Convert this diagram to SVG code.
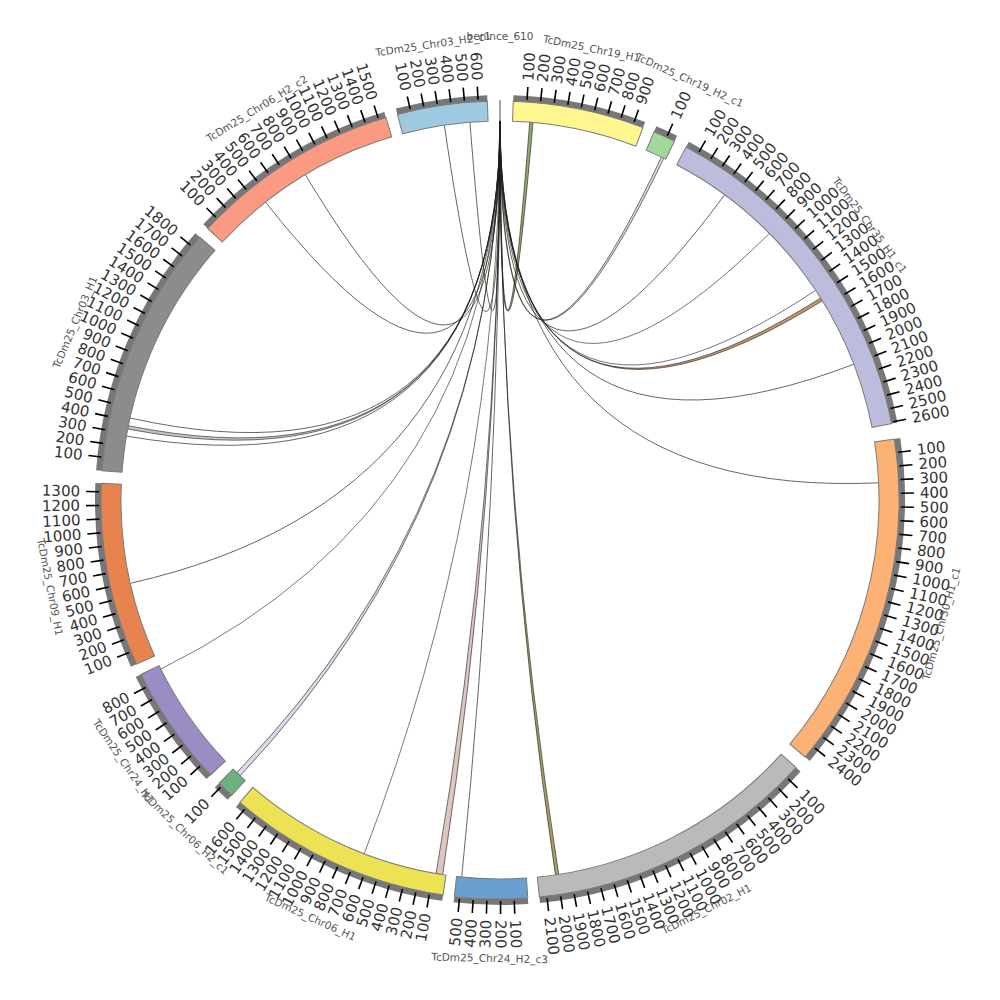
<svg xmlns="http://www.w3.org/2000/svg" xmlns:xlink="http://www.w3.org/1999/xlink" width="1000" height="1000" viewBox="0 0 1000 1000">
<style>
.b{stroke:#7a7a7a;stroke-width:1}
.g{fill:none;stroke:#777;stroke-width:6}
.n{font-family:"DejaVu Sans",sans-serif;font-size:15px;fill:#333;dominant-baseline:central}
.f{text-anchor:end}
.c{font-family:"DejaVu Sans",sans-serif;font-size:10.5px;fill:#555;text-anchor:middle}
.l{fill:none;stroke:#1a1a1a;stroke-width:0.7;opacity:0.95}
.r{stroke:#1a1a1a;stroke-width:0.6;fill-opacity:0.35}
.s{fill-opacity:0.75}
</style>
<defs><line id="k" x1="401" y1="0" x2="414" y2="0" stroke="#000" stroke-width="1.6"/></defs>
<rect width="1000" height="1000" fill="#fff"/>
<g id="links">
<path class="l" d="M500,121 Q500,500 444.3,125.1"/>
<path class="l" d="M500,121 Q500,500 469.9,122.2"/>
<path class="r s" fill="#6b8e3a" d="M499.8,121 Q500,500 529.7,122.2 A379,379 0 0 1 533,122.4 Q500,500 500.2,121 Z"/>
<path class="r" fill="#9a98c0" d="M499.8,121 Q500,500 661.4,157.1 A379,379 0 0 1 663.8,158.2 Q500,500 500.2,121 Z"/>
<path class="l" d="M500,121 Q500,500 724.6,194.8"/>
<path class="l" style="stroke:#4a2a1a" d="M500,121 Q500,500 769.4,233.4"/>
<path class="l" style="stroke:#2a2a5a" d="M500,121 Q500,500 815.7,290.3"/>
<path class="r s" fill="#b0703a" d="M499.8,121 Q500,500 820.7,298 A379,379 0 0 1 822.5,300.8 Q500,500 500.2,121 Z"/>
<path class="l" d="M500,121 Q500,500 853.8,364.2"/>
<path class="l" d="M500,121 Q500,500 878.6,482.8"/>
<path class="l" d="M500,121 Q500,500 130,418"/>
<path class="r" fill="#555" d="M499.8,121 Q500,500 127.7,429 A379,379 0 0 1 128.3,425.7 Q500,500 500.2,121 Z"/>
<path class="l" d="M500,121 Q500,500 126.4,436.1"/>
<path class="l" d="M500,121 Q500,500 130.3,583.3"/>
<path class="l" style="stroke:#3a3a10" d="M500,121 Q500,500 160.8,669.1"/>
<path class="r" fill="#8899bb" d="M499.8,121 Q500,500 240.1,775.8 A379,379 0 0 1 236.7,772.6 Q500,500 500.2,121 Z"/>
<path class="l" style="stroke:#3a3a10" d="M500,121 Q500,500 364.2,853.8"/>
<path class="r" fill="#a05a50" d="M499.8,121 Q500,500 442.7,874.6 A379,379 0 0 1 436.1,873.6 Q500,500 500.2,121 Z"/>
<path class="l" d="M500,121 Q500,500 461.7,877.1"/>
<path class="r s" fill="#8b7d2a" d="M499.8,121 Q500,500 558.7,874.4 A379,379 0 0 1 555.4,874.9 Q500,500 500.2,121 Z"/>
<path class="l" d="M500,121 Q500,500 265.6,202.2"/>
<path class="l" d="M500,121 Q500,500 305.4,174.8"/>
</g>
<g transform="translate(500,500)">
<g id="seg-benince_610">
<line x1="0" y1="-379" x2="0" y2="-400" stroke="#888" stroke-width="1.5"/>
<text class="c" y="-460">benince_610</text>
</g>
<g id="seg-Chr19_H1">
<g transform="rotate(1.9)"><path class="b" fill="#fff68f" d="M0,-399 A399,399 0 0 1 130.62,-377.01 L124.08,-358.11 A379,379 0 0 0 0,-379 Z"/><path class="g" d="M0,-402 A402,402 0 0 1 131.61,-379.85"/></g>
<g transform="rotate(-86.14)"><use href="#k"/><text class="n" x="420">100</text></g>
<g transform="rotate(-84.18)"><use href="#k"/><text class="n" x="420">200</text></g>
<g transform="rotate(-82.22)"><use href="#k"/><text class="n" x="420">300</text></g>
<g transform="rotate(-80.26)"><use href="#k"/><text class="n" x="420">400</text></g>
<g transform="rotate(-78.30)"><use href="#k"/><text class="n" x="420">500</text></g>
<g transform="rotate(-76.34)"><use href="#k"/><text class="n" x="420">600</text></g>
<g transform="rotate(-74.38)"><use href="#k"/><text class="n" x="420">700</text></g>
<g transform="rotate(-72.42)"><use href="#k"/><text class="n" x="420">800</text></g>
<g transform="rotate(-70.46)"><use href="#k"/><text class="n" x="420">900</text></g>
<text class="c" transform="rotate(11.46)" y="-457">TcDm25_Chr19_H1</text>
</g>
<g id="seg-Chr19_H2_c1">
<g transform="rotate(22.7)"><path class="b" fill="#a1d99b" d="M0,-399 A399,399 0 0 1 22.48,-398.37 L21.35,-378.4 A379,379 0 0 0 0,-379 Z"/><path class="g" d="M0,-402 A402,402 0 0 1 22.65,-401.36"/></g>
<g transform="rotate(-65.34)"><use href="#k"/><text class="n" x="420">100</text></g>
<text class="c" transform="rotate(24.32)" y="-457">TcDm25_Chr19_H2_c1</text>
</g>
<g id="seg-Chr35_H1_c1">
<g transform="rotate(27.8)"><path class="b" fill="#bcbddc" d="M0,-399 A399,399 0 0 1 310.79,-250.23 L295.21,-237.69 A379,379 0 0 0 0,-379 Z"/><path class="g" d="M0,-402 A402,402 0 0 1 313.12,-252.11"/></g>
<text class="c" transform="rotate(53.38)" y="-457">TcDm25_Chr35_H1_c1</text>
<g transform="rotate(-60.24)"><use href="#k"/><text class="n" x="420">100</text></g>
<g transform="rotate(-58.28)"><use href="#k"/><text class="n" x="420">200</text></g>
<g transform="rotate(-56.32)"><use href="#k"/><text class="n" x="420">300</text></g>
<g transform="rotate(-54.36)"><use href="#k"/><text class="n" x="420">400</text></g>
<g transform="rotate(-52.40)"><use href="#k"/><text class="n" x="420">500</text></g>
<g transform="rotate(-50.44)"><use href="#k"/><text class="n" x="420">600</text></g>
<g transform="rotate(-48.48)"><use href="#k"/><text class="n" x="420">700</text></g>
<g transform="rotate(-46.52)"><use href="#k"/><text class="n" x="420">800</text></g>
<g transform="rotate(-44.56)"><use href="#k"/><text class="n" x="420">900</text></g>
<g transform="rotate(-42.60)"><use href="#k"/><text class="n" x="420">1000</text></g>
<g transform="rotate(-40.64)"><use href="#k"/><text class="n" x="420">1100</text></g>
<g transform="rotate(-38.68)"><use href="#k"/><text class="n" x="420">1200</text></g>
<g transform="rotate(-36.72)"><use href="#k"/><text class="n" x="420">1300</text></g>
<g transform="rotate(-34.76)"><use href="#k"/><text class="n" x="420">1400</text></g>
<g transform="rotate(-32.80)"><use href="#k"/><text class="n" x="420">1500</text></g>
<g transform="rotate(-30.84)"><use href="#k"/><text class="n" x="420">1600</text></g>
<g transform="rotate(-28.88)"><use href="#k"/><text class="n" x="420">1700</text></g>
<g transform="rotate(-26.92)"><use href="#k"/><text class="n" x="420">1800</text></g>
<g transform="rotate(-24.96)"><use href="#k"/><text class="n" x="420">1900</text></g>
<g transform="rotate(-23.00)"><use href="#k"/><text class="n" x="420">2000</text></g>
<g transform="rotate(-21.04)"><use href="#k"/><text class="n" x="420">2100</text></g>
<g transform="rotate(-19.08)"><use href="#k"/><text class="n" x="420">2200</text></g>
<g transform="rotate(-17.12)"><use href="#k"/><text class="n" x="420">2300</text></g>
<g transform="rotate(-15.16)"><use href="#k"/><text class="n" x="420">2400</text></g>
<g transform="rotate(-13.20)"><use href="#k"/><text class="n" x="420">2500</text></g>
<g transform="rotate(-11.24)"><use href="#k"/><text class="n" x="420">2600</text></g>
</g>
<g id="seg-Chr30_H1_c1">
<g transform="rotate(81.2)"><path class="b" fill="#fdb275" d="M0,-399 A399,399 0 0 1 300.67,-262.29 L285.6,-249.15 A379,379 0 0 0 0,-379 Z"/><path class="g" d="M0,-402 A402,402 0 0 1 302.94,-264.27"/></g>
<text class="c" transform="rotate(-74.35)" y="462">TcDm25_Chr30_H1_c1</text>
<g transform="rotate(-6.84)"><use href="#k"/><text class="n" x="420">100</text></g>
<g transform="rotate(-4.88)"><use href="#k"/><text class="n" x="420">200</text></g>
<g transform="rotate(-2.92)"><use href="#k"/><text class="n" x="420">300</text></g>
<g transform="rotate(-0.96)"><use href="#k"/><text class="n" x="420">400</text></g>
<g transform="rotate(1.00)"><use href="#k"/><text class="n" x="420">500</text></g>
<g transform="rotate(2.96)"><use href="#k"/><text class="n" x="420">600</text></g>
<g transform="rotate(4.92)"><use href="#k"/><text class="n" x="420">700</text></g>
<g transform="rotate(6.88)"><use href="#k"/><text class="n" x="420">800</text></g>
<g transform="rotate(8.84)"><use href="#k"/><text class="n" x="420">900</text></g>
<g transform="rotate(10.80)"><use href="#k"/><text class="n" x="420">1000</text></g>
<g transform="rotate(12.76)"><use href="#k"/><text class="n" x="420">1100</text></g>
<g transform="rotate(14.72)"><use href="#k"/><text class="n" x="420">1200</text></g>
<g transform="rotate(16.68)"><use href="#k"/><text class="n" x="420">1300</text></g>
<g transform="rotate(18.64)"><use href="#k"/><text class="n" x="420">1400</text></g>
<g transform="rotate(20.60)"><use href="#k"/><text class="n" x="420">1500</text></g>
<g transform="rotate(22.56)"><use href="#k"/><text class="n" x="420">1600</text></g>
<g transform="rotate(24.52)"><use href="#k"/><text class="n" x="420">1700</text></g>
<g transform="rotate(26.48)"><use href="#k"/><text class="n" x="420">1800</text></g>
<g transform="rotate(28.44)"><use href="#k"/><text class="n" x="420">1900</text></g>
<g transform="rotate(30.40)"><use href="#k"/><text class="n" x="420">2000</text></g>
<g transform="rotate(32.36)"><use href="#k"/><text class="n" x="420">2100</text></g>
<g transform="rotate(34.32)"><use href="#k"/><text class="n" x="420">2200</text></g>
<g transform="rotate(36.28)"><use href="#k"/><text class="n" x="420">2300</text></g>
<g transform="rotate(38.24)"><use href="#k"/><text class="n" x="420">2400</text></g>
</g>
<g id="seg-Chr02_H1">
<g transform="rotate(132.1)"><path class="b" fill="#bababa" d="M0,-399 A399,399 0 0 1 268.22,-295.4 L254.78,-280.59 A379,379 0 0 0 0,-379 Z"/><path class="g" d="M0,-402 A402,402 0 0 1 270.24,-297.62"/></g>
<text class="c" transform="rotate(-26.78)" y="462">TcDm25_Chr02_H1</text>
<g transform="rotate(44.06)"><use href="#k"/><text class="n" x="420">100</text></g>
<g transform="rotate(46.02)"><use href="#k"/><text class="n" x="420">200</text></g>
<g transform="rotate(47.98)"><use href="#k"/><text class="n" x="420">300</text></g>
<g transform="rotate(49.94)"><use href="#k"/><text class="n" x="420">400</text></g>
<g transform="rotate(51.90)"><use href="#k"/><text class="n" x="420">500</text></g>
<g transform="rotate(53.86)"><use href="#k"/><text class="n" x="420">600</text></g>
<g transform="rotate(55.82)"><use href="#k"/><text class="n" x="420">700</text></g>
<g transform="rotate(57.78)"><use href="#k"/><text class="n" x="420">800</text></g>
<g transform="rotate(59.74)"><use href="#k"/><text class="n" x="420">900</text></g>
<g transform="rotate(61.70)"><use href="#k"/><text class="n" x="420">1000</text></g>
<g transform="rotate(63.66)"><use href="#k"/><text class="n" x="420">1100</text></g>
<g transform="rotate(65.62)"><use href="#k"/><text class="n" x="420">1200</text></g>
<g transform="rotate(67.58)"><use href="#k"/><text class="n" x="420">1300</text></g>
<g transform="rotate(69.54)"><use href="#k"/><text class="n" x="420">1400</text></g>
<g transform="rotate(71.50)"><use href="#k"/><text class="n" x="420">1500</text></g>
<g transform="rotate(73.46)"><use href="#k"/><text class="n" x="420">1600</text></g>
<g transform="rotate(75.42)"><use href="#k"/><text class="n" x="420">1700</text></g>
<g transform="rotate(77.38)"><use href="#k"/><text class="n" x="420">1800</text></g>
<g transform="rotate(79.34)"><use href="#k"/><text class="n" x="420">1900</text></g>
<g transform="rotate(81.30)"><use href="#k"/><text class="n" x="420">2000</text></g>
<g transform="rotate(83.26)"><use href="#k"/><text class="n" x="420">2100</text></g>
</g>
<g id="seg-Chr24_H2_c3">
<g transform="rotate(176)"><path class="b" fill="#6a9fd0" d="M0,-399 A399,399 0 0 1 73.26,-392.22 L69.59,-372.56 A379,379 0 0 0 0,-379 Z"/><path class="g" d="M0,-402 A402,402 0 0 1 73.81,-395.17"/></g>
<text class="c" transform="rotate(1.29)" y="462">TcDm25_Chr24_H2_c3</text>
<g transform="rotate(87.96)"><use href="#k"/><text class="n" x="420">100</text></g>
<g transform="rotate(89.92)"><use href="#k"/><text class="n" x="420">200</text></g>
<g transform="rotate(91.88)"><use href="#k"/><text class="n f" x="-420" transform="rotate(180)">300</text></g>
<g transform="rotate(93.84)"><use href="#k"/><text class="n f" x="-420" transform="rotate(180)">400</text></g>
<g transform="rotate(95.80)"><use href="#k"/><text class="n f" x="-420" transform="rotate(180)">500</text></g>
</g>
<g id="seg-Chr06_H1">
<g transform="rotate(188.2)"><path class="b" fill="#ece253" d="M0,-399 A399,399 0 0 1 214.38,-336.51 L203.64,-319.64 A379,379 0 0 0 0,-379 Z"/><path class="g" d="M0,-402 A402,402 0 0 1 216,-339.04"/></g>
<text class="c" transform="rotate(24.45)" y="462">TcDm25_Chr06_H1</text>
<g transform="rotate(100.16)"><use href="#k"/><text class="n f" x="-420" transform="rotate(180)">100</text></g>
<g transform="rotate(102.12)"><use href="#k"/><text class="n f" x="-420" transform="rotate(180)">200</text></g>
<g transform="rotate(104.08)"><use href="#k"/><text class="n f" x="-420" transform="rotate(180)">300</text></g>
<g transform="rotate(106.04)"><use href="#k"/><text class="n f" x="-420" transform="rotate(180)">400</text></g>
<g transform="rotate(108.00)"><use href="#k"/><text class="n f" x="-420" transform="rotate(180)">500</text></g>
<g transform="rotate(109.96)"><use href="#k"/><text class="n f" x="-420" transform="rotate(180)">600</text></g>
<g transform="rotate(111.92)"><use href="#k"/><text class="n f" x="-420" transform="rotate(180)">700</text></g>
<g transform="rotate(113.88)"><use href="#k"/><text class="n f" x="-420" transform="rotate(180)">800</text></g>
<g transform="rotate(115.84)"><use href="#k"/><text class="n f" x="-420" transform="rotate(180)">900</text></g>
<g transform="rotate(117.80)"><use href="#k"/><text class="n f" x="-420" transform="rotate(180)">1000</text></g>
<g transform="rotate(119.76)"><use href="#k"/><text class="n f" x="-420" transform="rotate(180)">1100</text></g>
<g transform="rotate(121.72)"><use href="#k"/><text class="n f" x="-420" transform="rotate(180)">1200</text></g>
<g transform="rotate(123.68)"><use href="#k"/><text class="n f" x="-420" transform="rotate(180)">1300</text></g>
<g transform="rotate(125.64)"><use href="#k"/><text class="n f" x="-420" transform="rotate(180)">1400</text></g>
<g transform="rotate(127.60)"><use href="#k"/><text class="n f" x="-420" transform="rotate(180)">1500</text></g>
<g transform="rotate(129.56)"><use href="#k"/><text class="n f" x="-420" transform="rotate(180)">1600</text></g>
</g>
<g id="seg-Chr06_H2_c1">
<g transform="rotate(222.25)"><path class="b" fill="#6bb27d" d="M0,-399 A399,399 0 0 1 17.47,-398.62 L16.6,-378.64 A379,379 0 0 0 0,-379 Z"/><path class="g" d="M0,-402 A402,402 0 0 1 17.6,-401.61"/></g>
<text class="c" transform="rotate(43.5)" y="462">TcDm25_Chr06_H2_c1</text>
<g transform="rotate(134.21)"><use href="#k"/><text class="n f" x="-420" transform="rotate(180)">100</text></g>
</g>
<g id="seg-Chr24_H1">
<g transform="rotate(226.45)"><path class="b" fill="#9c8cc4" d="M0,-399 A399,399 0 0 1 120.91,-380.24 L114.85,-361.18 A379,379 0 0 0 0,-379 Z"/><path class="g" d="M0,-402 A402,402 0 0 1 121.82,-383.1"/></g>
<text class="c" transform="rotate(55.27)" y="462">TcDm25_Chr24_H1</text>
<g transform="rotate(138.41)"><use href="#k"/><text class="n f" x="-420" transform="rotate(180)">100</text></g>
<g transform="rotate(140.37)"><use href="#k"/><text class="n f" x="-420" transform="rotate(180)">200</text></g>
<g transform="rotate(142.33)"><use href="#k"/><text class="n f" x="-420" transform="rotate(180)">300</text></g>
<g transform="rotate(144.29)"><use href="#k"/><text class="n f" x="-420" transform="rotate(180)">400</text></g>
<g transform="rotate(146.25)"><use href="#k"/><text class="n f" x="-420" transform="rotate(180)">500</text></g>
<g transform="rotate(148.21)"><use href="#k"/><text class="n f" x="-420" transform="rotate(180)">600</text></g>
<g transform="rotate(150.17)"><use href="#k"/><text class="n f" x="-420" transform="rotate(180)">700</text></g>
<g transform="rotate(152.13)"><use href="#k"/><text class="n f" x="-420" transform="rotate(180)">800</text></g>
</g>
<g id="seg-Chr09_H1">
<g transform="rotate(245.7)"><path class="b" fill="#e6834f" d="M0,-399 A399,399 0 0 1 179.28,-356.45 L170.29,-338.59 A379,379 0 0 0 0,-379 Z"/><path class="g" d="M0,-402 A402,402 0 0 1 180.63,-359.13"/></g>
<text class="c" transform="rotate(79.05)" y="462">TcDm25_Chr09_H1</text>
<g transform="rotate(157.66)"><use href="#k"/><text class="n f" x="-420" transform="rotate(180)">100</text></g>
<g transform="rotate(159.62)"><use href="#k"/><text class="n f" x="-420" transform="rotate(180)">200</text></g>
<g transform="rotate(161.58)"><use href="#k"/><text class="n f" x="-420" transform="rotate(180)">300</text></g>
<g transform="rotate(163.54)"><use href="#k"/><text class="n f" x="-420" transform="rotate(180)">400</text></g>
<g transform="rotate(165.50)"><use href="#k"/><text class="n f" x="-420" transform="rotate(180)">500</text></g>
<g transform="rotate(167.46)"><use href="#k"/><text class="n f" x="-420" transform="rotate(180)">600</text></g>
<g transform="rotate(169.42)"><use href="#k"/><text class="n f" x="-420" transform="rotate(180)">700</text></g>
<g transform="rotate(171.38)"><use href="#k"/><text class="n f" x="-420" transform="rotate(180)">800</text></g>
<g transform="rotate(173.34)"><use href="#k"/><text class="n f" x="-420" transform="rotate(180)">900</text></g>
<g transform="rotate(175.30)"><use href="#k"/><text class="n f" x="-420" transform="rotate(180)">1000</text></g>
<g transform="rotate(177.26)"><use href="#k"/><text class="n f" x="-420" transform="rotate(180)">1100</text></g>
<g transform="rotate(179.22)"><use href="#k"/><text class="n f" x="-420" transform="rotate(180)">1200</text></g>
<g transform="rotate(181.18)"><use href="#k"/><text class="n f" x="-420" transform="rotate(180)">1300</text></g>
</g>
<g id="seg-Chr03_H1">
<g transform="rotate(274.2)"><path class="b" fill="#8c8c8c" d="M0,-399 A399,399 0 0 1 240.18,-318.61 L228.14,-302.64 A379,379 0 0 0 0,-379 Z"/><path class="g" d="M0,-402 A402,402 0 0 1 241.99,-321.01"/></g>
<text class="c" transform="rotate(-67.3)" y="-457">TcDm25_Chr03_H1</text>
<g transform="rotate(186.16)"><use href="#k"/><text class="n f" x="-420" transform="rotate(180)">100</text></g>
<g transform="rotate(188.12)"><use href="#k"/><text class="n f" x="-420" transform="rotate(180)">200</text></g>
<g transform="rotate(190.08)"><use href="#k"/><text class="n f" x="-420" transform="rotate(180)">300</text></g>
<g transform="rotate(192.04)"><use href="#k"/><text class="n f" x="-420" transform="rotate(180)">400</text></g>
<g transform="rotate(194.00)"><use href="#k"/><text class="n f" x="-420" transform="rotate(180)">500</text></g>
<g transform="rotate(195.96)"><use href="#k"/><text class="n f" x="-420" transform="rotate(180)">600</text></g>
<g transform="rotate(197.92)"><use href="#k"/><text class="n f" x="-420" transform="rotate(180)">700</text></g>
<g transform="rotate(199.88)"><use href="#k"/><text class="n f" x="-420" transform="rotate(180)">800</text></g>
<g transform="rotate(201.84)"><use href="#k"/><text class="n f" x="-420" transform="rotate(180)">900</text></g>
<g transform="rotate(203.80)"><use href="#k"/><text class="n f" x="-420" transform="rotate(180)">1000</text></g>
<g transform="rotate(205.76)"><use href="#k"/><text class="n f" x="-420" transform="rotate(180)">1100</text></g>
<g transform="rotate(207.72)"><use href="#k"/><text class="n f" x="-420" transform="rotate(180)">1200</text></g>
<g transform="rotate(209.68)"><use href="#k"/><text class="n f" x="-420" transform="rotate(180)">1300</text></g>
<g transform="rotate(211.64)"><use href="#k"/><text class="n f" x="-420" transform="rotate(180)">1400</text></g>
<g transform="rotate(213.60)"><use href="#k"/><text class="n f" x="-420" transform="rotate(180)">1500</text></g>
<g transform="rotate(215.56)"><use href="#k"/><text class="n f" x="-420" transform="rotate(180)">1600</text></g>
<g transform="rotate(217.52)"><use href="#k"/><text class="n f" x="-420" transform="rotate(180)">1700</text></g>
<g transform="rotate(219.48)"><use href="#k"/><text class="n f" x="-420" transform="rotate(180)">1800</text></g>
</g>
<g id="seg-Chr06_H2_c2">
<g transform="rotate(312.9)"><path class="b" fill="#fb9a83" d="M0,-399 A399,399 0 0 1 202.51,-343.79 L192.36,-326.56 A379,379 0 0 0 0,-379 Z"/><path class="g" d="M0,-402 A402,402 0 0 1 204.03,-346.38"/></g>
<text class="c" transform="rotate(-31.85)" y="-457">TcDm25_Chr06_H2_c2</text>
<g transform="rotate(224.86)"><use href="#k"/><text class="n f" x="-420" transform="rotate(180)">100</text></g>
<g transform="rotate(226.82)"><use href="#k"/><text class="n f" x="-420" transform="rotate(180)">200</text></g>
<g transform="rotate(228.78)"><use href="#k"/><text class="n f" x="-420" transform="rotate(180)">300</text></g>
<g transform="rotate(230.74)"><use href="#k"/><text class="n f" x="-420" transform="rotate(180)">400</text></g>
<g transform="rotate(232.70)"><use href="#k"/><text class="n f" x="-420" transform="rotate(180)">500</text></g>
<g transform="rotate(234.66)"><use href="#k"/><text class="n f" x="-420" transform="rotate(180)">600</text></g>
<g transform="rotate(236.62)"><use href="#k"/><text class="n f" x="-420" transform="rotate(180)">700</text></g>
<g transform="rotate(238.58)"><use href="#k"/><text class="n f" x="-420" transform="rotate(180)">800</text></g>
<g transform="rotate(240.54)"><use href="#k"/><text class="n f" x="-420" transform="rotate(180)">900</text></g>
<g transform="rotate(242.50)"><use href="#k"/><text class="n f" x="-420" transform="rotate(180)">1000</text></g>
<g transform="rotate(244.46)"><use href="#k"/><text class="n f" x="-420" transform="rotate(180)">1100</text></g>
<g transform="rotate(246.42)"><use href="#k"/><text class="n f" x="-420" transform="rotate(180)">1200</text></g>
<g transform="rotate(248.38)"><use href="#k"/><text class="n f" x="-420" transform="rotate(180)">1300</text></g>
<g transform="rotate(250.34)"><use href="#k"/><text class="n f" x="-420" transform="rotate(180)">1400</text></g>
<g transform="rotate(252.30)"><use href="#k"/><text class="n f" x="-420" transform="rotate(180)">1500</text></g>
</g>
<g id="seg-Chr03_H2_c1">
<g transform="rotate(345.1)"><path class="b" fill="#9ecae1" d="M0,-399 A399,399 0 0 1 90.37,-388.63 L85.84,-369.15 A379,379 0 0 0 0,-379 Z"/><path class="g" d="M0,-402 A402,402 0 0 1 91.04,-391.56"/></g>
<text class="c" transform="rotate(-8.35)" y="-457">TcDm25_Chr03_H2_c1</text>
<g transform="rotate(257.06)"><use href="#k"/><text class="n f" x="-420" transform="rotate(180)">100</text></g>
<g transform="rotate(259.02)"><use href="#k"/><text class="n f" x="-420" transform="rotate(180)">200</text></g>
<g transform="rotate(260.98)"><use href="#k"/><text class="n f" x="-420" transform="rotate(180)">300</text></g>
<g transform="rotate(262.94)"><use href="#k"/><text class="n f" x="-420" transform="rotate(180)">400</text></g>
<g transform="rotate(264.90)"><use href="#k"/><text class="n f" x="-420" transform="rotate(180)">500</text></g>
<g transform="rotate(266.86)"><use href="#k"/><text class="n f" x="-420" transform="rotate(180)">600</text></g>
</g>
</g>
</svg>
